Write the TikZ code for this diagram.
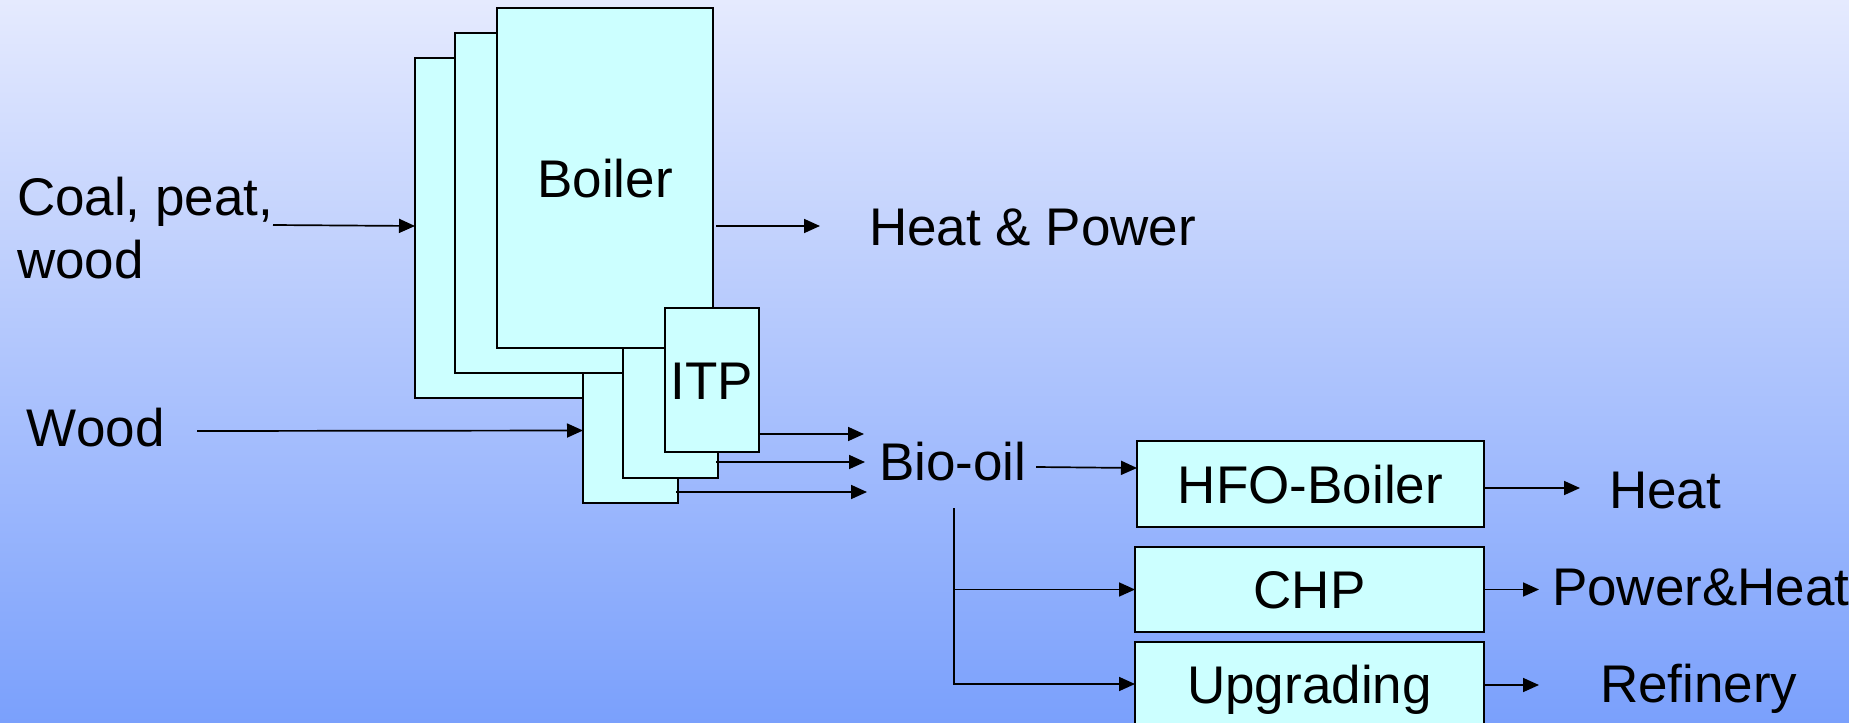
\documentclass[tikz,border=0pt]{standalone}
\usepackage{fontspec}
\setmainfont{Liberation Sans}
\usetikzlibrary{arrows.meta}
\definecolor{boxfill}{RGB}{204,255,255}
\definecolor{bgtop}{RGB}{229,234,254}
\definecolor{bgbot}{RGB}{122,160,252}
\newcommand\diagfont{\fontsize{53}{63}\selectfont}
\begin{document}
\begin{tikzpicture}[x=1pt,y=-1pt,
  box/.style={draw=black, line width=1.8pt, fill=boxfill, anchor=north west,
    inner sep=0pt, outer sep=0pt, font=\diagfont, text height=38pt, text depth=0pt},
  txt/.style={inner sep=0pt, outer sep=0pt, font=\diagfont, anchor=base west},
  arr/.style={-{Triangle[length=16pt,width=14pt]}, line width=1.7pt}]
\useasboundingbox (0,0) rectangle (1872,723);
\clip (0,0) rectangle (1872,723);
\shade[top color=bgtop, bottom color=bgbot] (0,0) rectangle (1849,723);

% boiler units (back to front)
\node[box, minimum width=216pt, minimum height=340pt] (b1) at (415,58) {};
\node[box, minimum width=95pt, minimum height=145pt] (i1) at (583,358) {};
\node[box, minimum width=216pt, minimum height=340pt] (b2) at (455,33) {};
\node[box, minimum width=95pt, minimum height=145pt] (i2) at (623,333) {};
\node[box, minimum width=216pt, minimum height=340pt] (b3) at (497,8) {Boiler};
\node[box, minimum width=94pt, minimum height=144pt] (i3) at (665,308) {ITP};

% bio-oil users
\node[box, minimum width=347pt, minimum height=86pt] (hfo) at (1137,441) {HFO-Boiler};
\node[box, minimum width=349pt, minimum height=85pt] (chp) at (1135,547) {CHP};
\node[box, minimum width=349pt, minimum height=85pt] (upg) at (1135,642) {Upgrading};

% texts
\node[txt, align=left] (coal) at (17,278) {Coal, peat,\\wood};
\node[txt] (wood) at (27,446) {Wood};
\node[txt] (hp) at (869,245) {Heat \& Power};
\node[txt] (bio) at (879,480) {Bio-oil};
\node[txt] (heat) at (1609,508) {Heat};
\node[txt] (ph) at (1552,605) {Power\&Heat};
\node[txt] (ref) at (1600,702) {Refinery};

% connectors
\coordinate (coalout) at (273,225);
\coordinate (woodout) at (197,431);
\coordinate (bioout) at (1036,467);
\coordinate (bv) at (954,508);
\draw[arr] (coalout) -- ([yshift=2pt]b1.west);
\draw[arr] (woodout) -- (i1.west);
\draw[arr] ([xshift=3pt,yshift=-48pt]b3.east) -- ++(104,0);
\draw[arr] ([yshift=-54pt]i3.east) -- ++(105,0);
\draw[arr] ([xshift=-2pt,yshift=-56.5pt]i2.east) -- ++(149,0);
\draw[arr] ([xshift=-2pt,yshift=-61.5pt]i1.east) -- ++(191,0);
\draw[arr] (bioout) -- ([yshift=16pt]hfo.west);
\draw[arr] (bv) |- ([yshift=0.5pt]upg.west);
\draw[arr] (bv |- chp.west) -- (chp.west);
\draw[arr] ([yshift=-4pt]hfo.east) -- ++(96,0);
\draw[arr] (chp.east) -- ++(55,0);
\draw[arr] ([yshift=-0.5pt]upg.east) -- ++(55,0);

% white strip at right edge
\fill[white] (1849,0) rectangle (1872,723);
\end{tikzpicture}
\end{document}
